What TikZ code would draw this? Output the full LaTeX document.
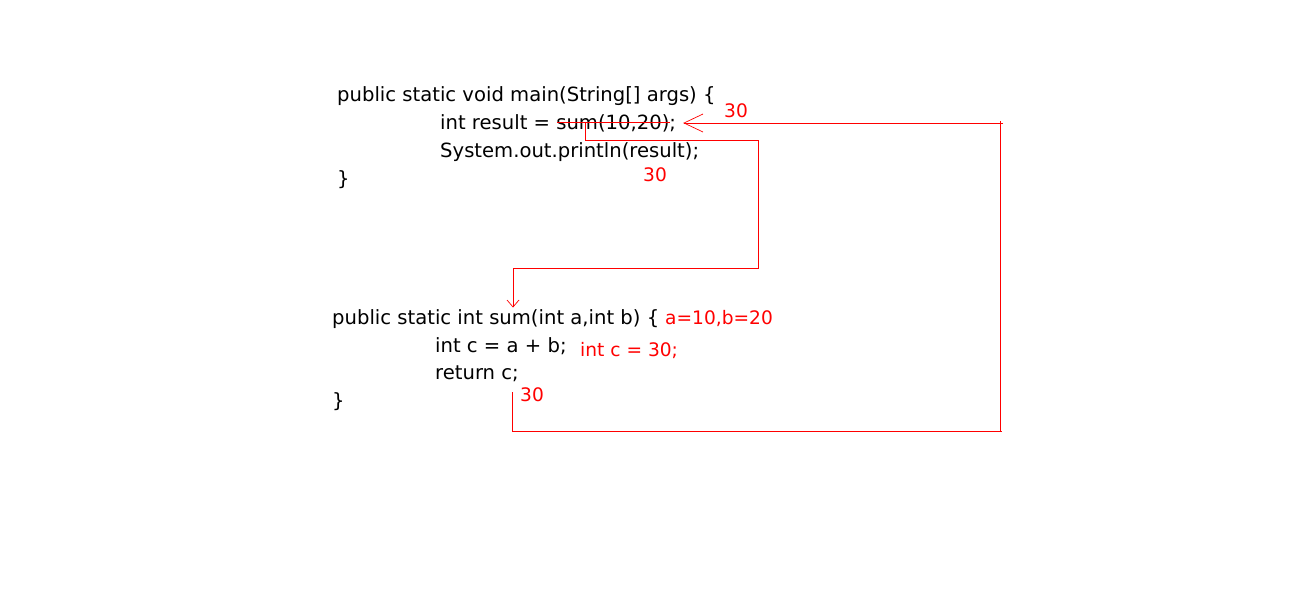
\documentclass[tikz,border=0pt]{standalone}
\usepackage{fontspec}
\setmainfont{DejaVu Sans}
\begin{document}
\begin{tikzpicture}[x=1pt,y=-1pt,
  code/.style={anchor=base west,inner sep=0pt,font=\fontsize{19.6}{19.6}\selectfont},
  note/.style={anchor=base west,inner sep=0pt,text=red,font=\fontsize{18.6}{18.6}\selectfont},
  wire/.style={draw=red,line width=0.9pt},
  openhead/.style={draw=red,line width=0.7pt}]
\useasboundingbox (0,0) rectangle (1297,600);
% main method
\node[code] (m1) at (337,101) {public static void main(String[] args) \{};
\node[code] (m2) at (440,129) {int result = sum(10,20);};
\node[code] (m3) at (440,157) {System.out.println(result);};
\node[code] (m4) at (337,185) {\}};
% sum method
\node[code] (s1) at (332,324) {public static int sum(int a,int b) \{};
\node[code] (s2) at (435,352) {int c = a + b;};
\node[code] (s3) at (435,379) {return c;};
\node[code] (s4) at (332,407) {\}};
% red notes
\node[note] (r1) at (724,117) {30};
\node[note] (r2) at (643,181) {30};
\node[note] (ab) at (665,324) {a=10,b=20};
\node[note] (ic) at (580,356) {int c = 30;};
\node[note] (r3) at (520,401) {30};
% strike
\coordinate (k1) at (557,122);
\coordinate (k2) at (670,122);
\draw[wire] (k1) -- (k2);
% call path
\coordinate (c0) at (585,122);
\coordinate (c1) at (585,140);
\coordinate (c2) at (758,140);
\coordinate (c3) at (758,268);
\coordinate (c4) at (513,268);
\coordinate (c5) at (513,307);
\draw[wire] (c0) -- (c1) -- (c2) -- (c3) -- (c4) -- (c5);
\coordinate (ca) at (507,300);
\coordinate (cb) at (519,300);
\draw[openhead] (ca) -- (c5) -- (cb);
% return path
\coordinate (t0) at (512,392);
\coordinate (t1) at (512,431);
\coordinate (t2) at (1002,431);
\coordinate (t3) at (1000,431);
\coordinate (t4) at (1000,121);
\coordinate (t5) at (1003,123);
\coordinate (t6) at (684,123);
\draw[wire] (t0) -- (t1) -- (t2);
\draw[wire] (t3) -- (t4);
\draw[wire] (t5) -- (t6);
\coordinate (ta) at (703,114);
\coordinate (tb) at (703,132);
\draw[openhead] (ta) -- (t6) -- (tb);
\end{tikzpicture}
\end{document}
